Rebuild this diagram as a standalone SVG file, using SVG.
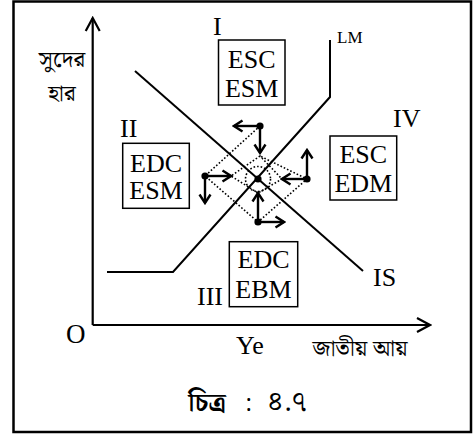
<svg xmlns="http://www.w3.org/2000/svg" width="473" height="434" viewBox="0 0 473 434">
<defs>
<style>
.ln{fill:none;stroke:#000;stroke-width:2}
.ax{fill:none;stroke:#000;stroke-width:2.2}
.dot{fill:none;stroke:#000;stroke-width:1.6;stroke-dasharray:1.6 2}
.arr{fill:none;stroke:#000;stroke-width:2.4}
.box{fill:#fff;stroke:#000;stroke-width:1.5}
.t{font-family:"Liberation Serif","Times New Roman",serif;font-size:26px;fill:#000}
.c{text-anchor:middle}
.bn{font-family:"Noto Serif Bengali","Noto Sans Bengali","Lohit Bengali","Vrinda",sans-serif;fill:#000;font-size:22px;text-anchor:middle}
</style>
<marker id="ah" viewBox="-10 -7 12 14" markerWidth="12" markerHeight="14" refX="0" refY="0" orient="auto" markerUnits="userSpaceOnUse">
<path d="M-8.5,-5.5 L0,0 L-8.5,5.5" fill="none" stroke="#000" stroke-width="2.4"/>
</marker>
<marker id="axh" viewBox="-16 -9 18 18" markerWidth="18" markerHeight="18" refX="0" refY="0" orient="auto" markerUnits="userSpaceOnUse">
<path d="M-13,-7 L0,0 L-13,7" fill="none" stroke="#000" stroke-width="2.2"/>
</marker>
</defs>
<rect x="0" y="0" width="473" height="434" fill="#fff"/>
<rect x="13.5" y="1.5" width="457.5" height="430.5" fill="none" stroke="#000" stroke-width="2.5"/>

<g id="axes">
<path class="ax" d="M92.7,325 L92.7,18" marker-end="url(#axh)"/>
<path class="ax" d="M92.7,325 L430,325" marker-end="url(#axh)"/>
<text class="t" x="66" y="343" style="font-size:27px">O</text>
<text class="t" x="236" y="354">Ye</text>
<text class="bn" x="62" y="67" style="font-size:23px">সুদের</text>
<text class="bn" x="62" y="101" style="font-size:23px">হার</text>
<text class="bn" x="360" y="356" style="font-size:23px">জাতীয় আয়</text>
</g>

<g id="connectors">
<path id="IS" class="ln" d="M135,71 L363,271"/>
<path id="LM" class="ln" d="M107,272 L173,272 L330,97 L330,40"/>
<path class="dot" d="M260,126 L205,176 L258,222 L307,179 L260,156"/>
<path class="dot" d="M260,156 L231,176 L258,193 L282,179 Z"/>
<circle class="dot" cx="258" cy="179" r="12.5"/>
<path class="arr" d="M260,126 L234,126" marker-end="url(#ah)"/>
<path class="arr" d="M260,126 L260,153" marker-end="url(#ah)"/>
<path class="arr" d="M205,176 L231,176" marker-end="url(#ah)"/>
<path class="arr" d="M205,176 L205,203" marker-end="url(#ah)"/>
<path class="arr" d="M307,179 L282,179" marker-end="url(#ah)"/>
<path class="arr" d="M307,179 L307,150" marker-end="url(#ah)"/>
<path class="arr" d="M258,222 L258,193" marker-end="url(#ah)"/>
<path class="arr" d="M258,222 L284,222" marker-end="url(#ah)"/>
</g>

<g id="points">
<circle cx="260" cy="126" r="3.6"/>
<circle cx="205" cy="176" r="3.6"/>
<circle cx="307" cy="179" r="3.6"/>
<circle cx="258" cy="222" r="3.6"/>
<circle cx="258" cy="179" r="3.6"/>
</g>

<g id="labels">
<text class="t" x="337" y="43" style="font-size:17px">LM</text>
<text class="t" x="373" y="286">IS</text>
</g>

<g id="node-I">
<text class="t" x="213" y="35">I</text>
<rect class="box" x="218.5" y="40" width="66.5" height="65"/>
<text class="t c" x="251.7" y="68">ESC</text>
<text class="t c" x="251.7" y="96.5">ESM</text>
</g>

<g id="node-II">
<text class="t" x="120" y="137">II</text>
<rect class="box" x="122.7" y="143.3" width="66.6" height="65"/>
<text class="t c" x="156" y="171.7">EDC</text>
<text class="t c" x="156" y="199">ESM</text>
</g>

<g id="node-IV">
<text class="t" x="393" y="127">IV</text>
<rect class="box" x="330" y="136" width="66.7" height="64"/>
<text class="t c" x="363.3" y="163">ESC</text>
<text class="t c" x="363.3" y="192">EDM</text>
</g>

<g id="node-III">
<text class="t" x="197" y="305">III</text>
<rect class="box" x="229.3" y="241.7" width="68.4" height="65"/>
<text class="t c" x="263.5" y="268">EDC</text>
<text class="t c" x="263.5" y="298">EBM</text>
</g>

<g id="caption">
<text class="bn" x="207" y="411" style="font-size:26px;font-weight:bold">চিত্র</text>
<text class="bn" x="248" y="411" style="font-size:24px">:</text>
<text class="bn" x="287" y="411" style="font-size:28px">৪.৭</text>
</g>
</svg>
